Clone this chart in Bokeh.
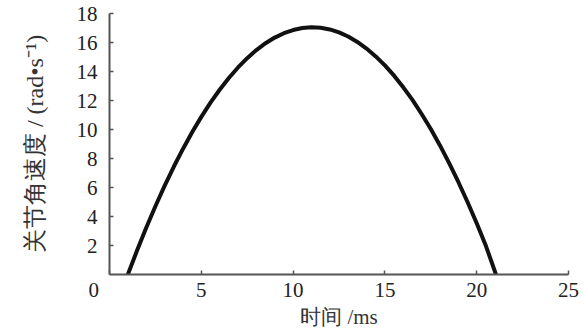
from bokeh.plotting import figure
from bokeh.models import Range1d, FixedTicker
from bokeh.embed import file_html
from bokeh.resources import INLINE

# time (ms) and joint angular velocity (rad/s)
time_ms = [1.0, 1.5, 2.0, 2.5, 3.0, 3.5, 4.0, 4.5, 5.0, 5.5, 6.0, 6.5, 7.0, 7.5,
           8.0, 8.5, 9.0, 9.5, 10.0, 10.5, 11.0, 11.5, 12.0, 12.5, 13.0, 13.5,
           14.0, 14.5, 15.0, 15.5, 16.0, 16.5, 17.0, 17.5, 18.0, 18.5, 19.0,
           19.5, 20.0, 20.5, 21.05]
omega = [0.0, 1.65, 3.22, 4.71, 6.11, 7.43, 8.66, 9.81, 10.87, 11.85, 12.74,
         13.55, 14.28, 14.92, 15.48, 15.95, 16.34, 16.64, 16.86, 17.00, 17.05,
         17.02, 16.90, 16.70, 16.41, 16.04, 15.58, 15.04, 14.42, 13.71, 12.91,
         12.04, 11.07, 10.03, 8.90, 7.68, 6.38, 5.00, 3.53, 1.98, 0.0]

x_ticks = [0, 5, 10, 15, 20, 25]
y_ticks = [2, 4, 6, 8, 10, 12, 14, 16, 18]
x_title = "时间 /ms"
y_title = "关节角速度 / (rad•s⁻¹)"

p = figure(width=585, height=331, output_backend="svg", toolbar_location=None,
           x_range=Range1d(0, 25), y_range=Range1d(0, 18),
           min_border_left=109, min_border_right=17, min_border_top=13,
           min_border_bottom=57)
p.outline_line_color = None
p.xgrid.visible = False
p.ygrid.visible = False
p.background_fill_color = "white"
p.border_fill_color = "white"

p.line(time_ms, omega, line_color="#111111", line_width=4)

for ax in (p.xaxis[0], p.yaxis[0]):
    ax.axis_line_color = "#555555"
    ax.axis_line_width = 2
    ax.major_tick_line_color = "#555555"
    ax.major_tick_line_width = 1.5
    ax.major_tick_in = 4
    ax.major_tick_out = 0
    ax.minor_tick_line_color = None
    ax.major_label_text_font = "Liberation Serif"
    ax.major_label_text_font_size = "21px"
    ax.major_label_text_color = "#222222"
    ax.axis_label_text_font = "Liberation Serif"
    ax.axis_label_text_font_style = "normal"
    ax.axis_label_text_color = "#333333"
    ax.axis_label_text_line_height = 1.0

p.xaxis[0].ticker = FixedTicker(ticks=x_ticks)
p.xaxis[0].major_label_overrides = {0: "0" + "\u00a0" * 6}
p.yaxis[0].ticker = FixedTicker(ticks=y_ticks)
p.xaxis[0].major_label_standoff = 3
p.yaxis[0].major_label_standoff = 12
p.xaxis[0].axis_label = x_title
p.yaxis[0].axis_label = y_title
p.xaxis[0].axis_label_text_font_size = "21px"
p.yaxis[0].axis_label_text_font_size = "24px"
p.xaxis[0].axis_label_standoff = 0
p.yaxis[0].axis_label_standoff = 26

open("out.html", "w").write(file_html(p, INLINE))
